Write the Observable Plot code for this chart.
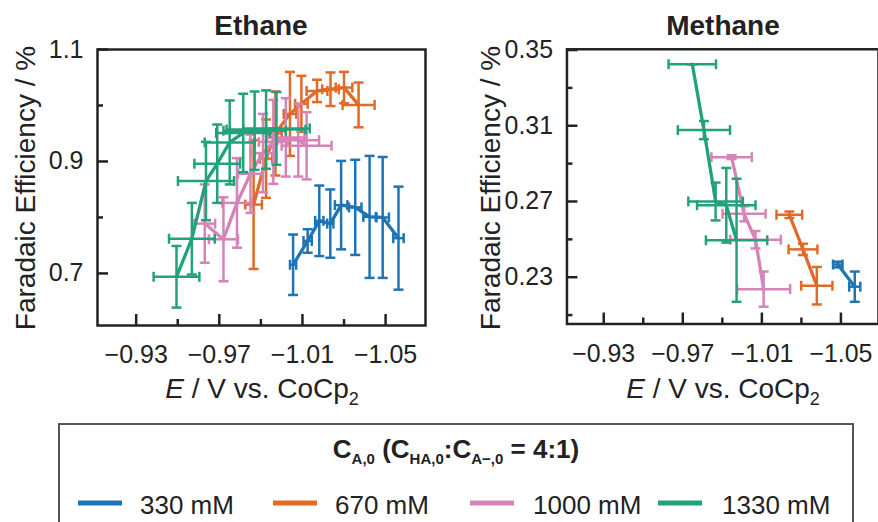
<!DOCTYPE html>
<html><head><meta charset="utf-8">
<script src="https://cdn.jsdelivr.net/npm/d3@7"></script>
<script src="https://cdn.jsdelivr.net/npm/@observablehq/plot@0.6"></script>
<style>
body{margin:0;width:878px;height:522px;overflow:hidden;position:relative;background:#fff;font-family:"Liberation Sans",Arial,sans-serif;}
.pane{position:absolute;top:0;}
#overlay{position:absolute;left:0;top:0;pointer-events:none;}
</style></head><body>
<div id="p1" class="pane" style="left:0"></div>
<div id="p2" class="pane" style="left:450px"></div>
<svg id="overlay" width="878" height="522"></svg>
<script>
const series = ["330 mM", "670 mM", "1000 mM", "1330 mM"];
const colors = ["#1f74b4", "#e06a26", "#d684b8", "#22a27a"];

// ---- Ethane (left panel) ----
const ethE330 = [-1.0055, -1.0125, -1.0181, -1.0234, -1.0286, -1.0354, -1.0423, -1.0486, -1.0562];
const ethFE330 = [0.7155, 0.758, 0.794, 0.789, 0.822, 0.818, 0.801, 0.800, 0.763];
const ethFEerr330 = [0.054, 0.021, 0.063, 0.061, 0.079, 0.085, 0.109, 0.108, 0.092];
const ethEerr330 = [0.0015, 0.002, 0.002, 0.0015, 0.003, 0.003, 0.003, 0.003, 0.0025];

const ethE670 = [-0.9865, -0.9925, -0.9970, -1.0040, -1.0095, -1.0170, -1.0235, -1.0300, -1.0370];
const ethFE670 = [0.823, 0.905, 0.950, 0.985, 1.003, 1.026, 1.029, 1.032, 1.001];
const ethFEerr670 = [0.115, 0.07, 0.075, 0.075, 0.05, 0.02, 0.03, 0.028, 0.04];
const ethEerr670 = [0.004, 0.003, 0.003, 0.003, 0.003, 0.005, 0.004, 0.004, 0.0077];

const ethE1000 = [-0.963, -0.972, -0.9785, -0.985, -0.991, -0.996, -1.002, -1.008, -1.012];
const ethFE1000 = [0.789, 0.761, 0.826, 0.878, 0.915, 0.935, 0.943, 0.938, 0.928];
const ethFEerr1000 = [0.07, 0.075, 0.08, 0.07, 0.07, 0.075, 0.07, 0.065, 0.06];
const ethEerr1000 = [0.005, 0.007, 0.007, 0.006, 0.006, 0.007, 0.009, 0.010, 0.012];

const ethE1330 = [-0.9494, -0.9568, -0.9636, -0.969, -0.9750, -0.9815, -0.9870, -0.9925, -0.9975];
const ethFE1330 = [0.694, 0.762, 0.865, 0.896, 0.934, 0.951, 0.955, 0.957, 0.959];
const ethFEerr1330 = [0.055, 0.064, 0.07, 0.07, 0.075, 0.07, 0.07, 0.07, 0.065];
const ethEerr1330 = [0.011, 0.011, 0.0135, 0.011, 0.012, 0.013, 0.015, 0.019, 0.016];

// ---- Methane (right panel) ----
const metE330 = [-1.0484, -1.0570];
const metFE330 = [0.2367, 0.225];
const metFEerr330 = [0.0015, 0.008];
const metEerr330 = [0.0024, 0.0028];

const metE670 = [-1.0239, -1.0308, -1.0378];
const metFE670 = [0.263, 0.2447, 0.2255];
const metFEerr670 = [0.0017, 0.003, 0.0099];
const metEerr670 = [0.0065, 0.0073, 0.0079];

const metE1000 = [-0.9947, -1.001, -1.0068, -1.0109];
const metFE1000 = [0.2934, 0.2635, 0.2498, 0.2237];
const metFEerr1000 = [0.001, 0.004, 0.0046, 0.0093];
const metEerr1000 = [0.0102, 0.0109, 0.0128, 0.0134];

const metE1330 = [-0.9748, -0.9807, -0.9866, -0.992, -0.9972];
const metFE1330 = [0.3425, 0.3077, 0.270, 0.268, 0.2495];
const metFEerr1330 = [0, 0.0048, 0.01, 0.0197, 0.0325];
const metEerr1330 = [0.012, 0.0132, 0.0138, 0.0148, 0.0155];

// ---- tick labels ----
const xTicksMajor = [-0.93, -0.97, -1.01, -1.05];
const xTicksMinor = [-0.95, -0.99, -1.03];
const ethYMajor = [0.7, 0.9, 1.1];
const ethYMinor = [0.8, 1.0];
const metYMajor = [0.23, 0.27, 0.31, 0.35];
const metYMinor = [0.21, 0.25, 0.29, 0.33];

function rows(s, E, FE, FEerr, Eerr) {
  return E.map((e, i) => ({s, E: e, FE: FE[i], FEe: FEerr[i], Ee: Eerr[i]}));
}
const ethRows = [
  rows("330 mM", ethE330, ethFE330, ethFEerr330, ethEerr330),
  rows("670 mM", ethE670, ethFE670, ethFEerr670, ethEerr670),
  rows("1000 mM", ethE1000, ethFE1000, ethFEerr1000, ethEerr1000),
  rows("1330 mM", ethE1330, ethFE1330, ethFEerr1330, ethEerr1330)
];
const metRows = [
  rows("330 mM", metE330, metFE330, metFEerr330, metEerr330),
  rows("670 mM", metE670, metFE670, metFEerr670, metEerr670),
  rows("1000 mM", metE1000, metFE1000, metFEerr1000, metEerr1000),
  rows("1330 mM", metE1330, metFE1330, metFEerr1330, metEerr1330)
];

const capH = {draw(ctx) { ctx.moveTo(-5, 0); ctx.lineTo(5, 0); }};
const capV = {draw(ctx) { ctx.moveTo(0, -5); ctx.lineTo(0, 5); }};
const ink = "#222";

function panel({groups, xDomain, yDomain, yMajor, yMinor, yFmt, width, marginLeft, marginRight}) {
  const height = 420, mt = 49, mb = 95;
  const fh = height - mt - mb, fw = width - marginLeft - marginRight;
  const marks = [];
  for (const g of groups) {
    const ew = 2.5;
    marks.push(
      Plot.ruleX(g, {x: "E", y1: d => d.FE - d.FEe, y2: d => d.FE + d.FEe, stroke: "s", strokeWidth: ew}),
      Plot.ruleY(g, {y: "FE", x1: d => d.E - d.Ee, x2: d => d.E + d.Ee, stroke: "s", strokeWidth: ew}),
      Plot.dot(g, {x: "E", y: d => d.FE + d.FEe, symbol: capH, stroke: "s", fill: "none", strokeWidth: ew}),
      Plot.dot(g, {x: "E", y: d => d.FE - d.FEe, symbol: capH, stroke: "s", fill: "none", strokeWidth: ew}),
      Plot.dot(g, {x: d => d.E - d.Ee, y: "FE", symbol: capV, stroke: "s", fill: "none", strokeWidth: ew}),
      Plot.dot(g, {x: d => d.E + d.Ee, y: "FE", symbol: capV, stroke: "s", fill: "none", strokeWidth: ew}),
      Plot.line(g, {x: "E", y: "FE", stroke: "s", strokeWidth: 3.3})
    );
  }
  marks.push(
    Plot.tickX(xTicksMajor, {x: d => d, insetTop: fh - 11, stroke: ink, strokeWidth: 2.5}),
    Plot.tickX(xTicksMinor, {x: d => d, insetTop: fh - 6, stroke: ink, strokeWidth: 2.5}),
    Plot.tickY(yMajor, {y: d => d, insetRight: fw - 11, stroke: ink, strokeWidth: 2.5}),
    Plot.tickY(yMinor, {y: d => d, insetRight: fw - 6, stroke: ink, strokeWidth: 2.5}),
    Plot.frame({stroke: ink, strokeWidth: 2.5}),
    Plot.axisX(xTicksMajor, {tickSize: 0, tickPadding: 20, tickFormat: d3.format(".2f"), label: null}),
    Plot.axisY(yMajor, {tickSize: 0, tickPadding: 14, tickFormat: d3.format(yFmt), label: null})
  );
  return Plot.plot({
    width, height, marginTop: mt, marginBottom: mb, marginLeft, marginRight,
    style: {fontFamily: "'Liberation Sans', Arial, sans-serif", fontSize: "25px", color: ink, background: "transparent", overflow: "visible"},
    x: {domain: xDomain, label: null},
    y: {domain: yDomain, label: null},
    color: {domain: series, range: colors},
    marks
  });
}

document.getElementById("p1").append(panel({
  groups: ethRows, xDomain: [-0.9114, -1.0692], yDomain: [0.607, 1.1],
  yMajor: ethYMajor, yMinor: ethYMinor, yFmt: ".1f", width: 440, marginLeft: 97, marginRight: 15
}));
document.getElementById("p2").append(panel({
  groups: metRows, xDomain: [-0.9114, -1.069], yDomain: [0.2053, 0.3504],
  yMajor: metYMajor, yMinor: metYMinor, yFmt: ".2f", width: 430, marginLeft: 117, marginRight: 0
}));

// ---- text overlay ----
const ov = d3.select("#overlay").style("font-family", "'Liberation Sans', Arial, sans-serif").attr("fill", ink);
const titles = [["Ethane", 261], ["Methane", 723]];
for (const [t, x] of titles) {
  ov.append("text").attr("x", x).attr("y", 35).attr("text-anchor", "middle")
    .attr("font-size", 28).attr("font-weight", "bold").text(t);
}
for (const [x, ly] of [[35, 188], [500, 188]]) {
  ov.append("text").attr("transform", `translate(${x},${ly}) rotate(-90)`)
    .attr("text-anchor", "middle").attr("font-size", 28).text("Faradaic Efficiency / %");
}
for (const cx of [262, 723]) {
  const t = ov.append("text").attr("x", cx).attr("y", 398).attr("text-anchor", "middle").attr("font-size", 28);
  t.append("tspan").attr("font-style", "italic").text("E");
  t.append("tspan").text(" / V vs. CoCp");
  t.append("tspan").attr("font-size", 18).attr("dy", 7).text("2");
}

// legend
ov.append("rect").attr("x", 59).attr("y", 424).attr("width", 794).attr("height", 130)
  .attr("fill", "none").attr("stroke", "#555").attr("stroke-width", 2);
const lt = ov.append("text").attr("x", 456).attr("y", 458).attr("text-anchor", "middle")
  .attr("font-size", 26).attr("font-weight", "bold")
  .style("font-family", "'Liberation Sans Narrow', 'Arial Narrow', 'Liberation Sans', sans-serif");
const sub = (txt) => { lt.append("tspan").attr("font-size", 15).attr("dy", 6).text(txt); };
const main = (txt) => { lt.append("tspan").attr("dy", -6).text(txt); };
lt.append("tspan").text("C"); sub("A,0"); main(" (C"); sub("HA,0"); main(":C"); sub("A\u2212,0"); main(" = 4:1)");
const legX = [78, 273, 470, 658];
const legTX = [140, 335, 533, 722];
series.forEach((s, i) => {
  ov.append("line").attr("x1", legX[i]).attr("x2", legX[i] + 44).attr("y1", 503).attr("y2", 503)
    .attr("stroke", colors[i]).attr("stroke-width", 5);
  ov.append("text").attr("x", legTX[i]).attr("y", 514).attr("font-size", 26).text(s);
});
</script>
</body></html>
